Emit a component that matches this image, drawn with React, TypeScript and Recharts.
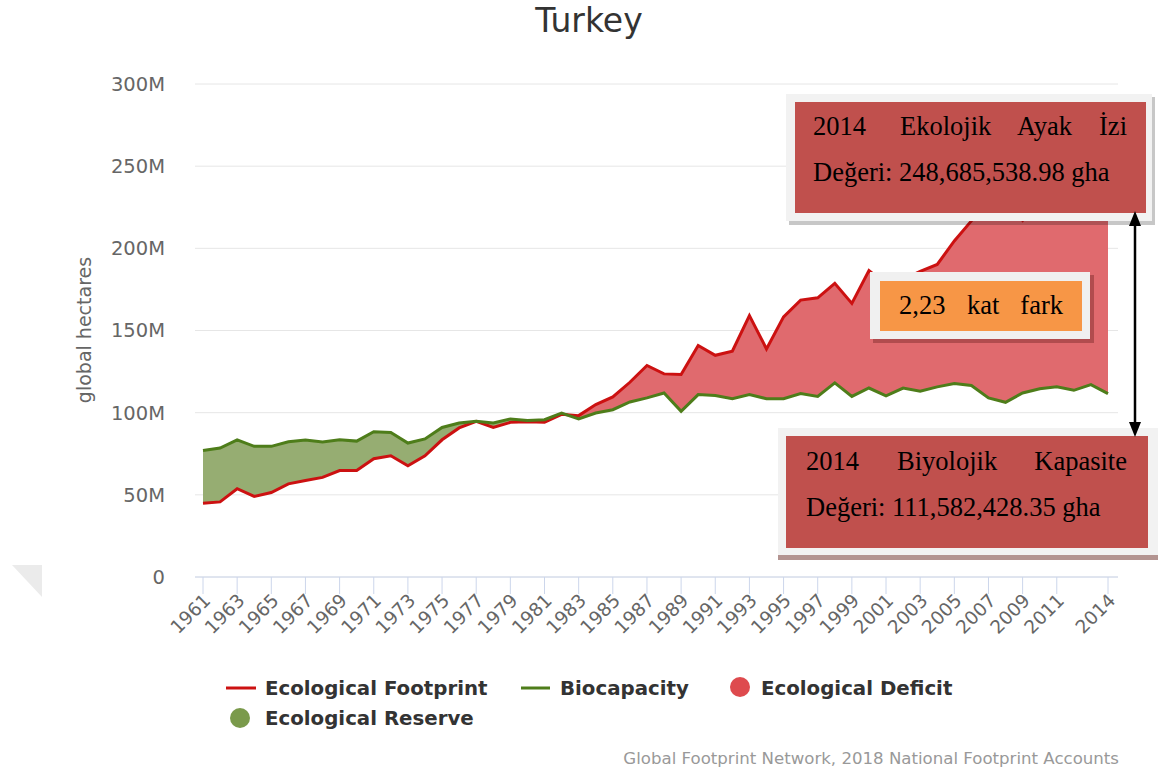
import React from "react";
import { ComposedChart, Area, Line, XAxis, YAxis, CartesianGrid } from "recharts";

// values, in millions of global hectares
const years = [
  1961, 1962, 1963, 1964, 1965, 1966, 1967, 1968, 1969, 1970,
  1971, 1972, 1973, 1974, 1975, 1976, 1977, 1978, 1979, 1980,
  1981, 1982, 1983, 1984, 1985, 1986, 1987, 1988, 1989, 1990,
  1991, 1992, 1993, 1994, 1995, 1996, 1997, 1998, 1999, 2000,
  2001, 2002, 2003, 2004, 2005, 2006, 2007, 2008, 2009, 2010,
  2011, 2012, 2013, 2014,
];

const footprint = [
  44.9, 45.7, 53.7, 49.0, 51.4, 56.7, 58.7, 60.6, 64.8, 64.8,
  72.0, 73.8, 67.7, 73.8, 83.5, 90.7, 94.7, 91.0, 94.1, 94.5,
  94.1, 99.0, 98.2, 104.9, 109.6, 118.5, 128.7, 123.6, 123.2, 140.9,
  134.9, 137.4, 159.1, 138.8, 158.3, 168.5, 169.9, 178.7, 166.5, 186.5,
  178.0, 181.0, 186.0, 190.2, 204.5, 216.7, 230.0, 228.0, 217.0, 232.0,
  241.0, 244.0, 252.0, 248.7,
];

const biocapacity = [
  77.0, 78.5, 83.5, 79.5, 79.5, 82.3, 83.3, 82.1, 83.5, 82.7,
  88.4, 88.0, 81.5, 84.0, 91.0, 93.7, 94.7, 93.7, 96.2, 95.3,
  95.7, 99.8, 96.2, 99.8, 101.8, 106.5, 109.0, 112.0, 100.8, 111.0,
  110.4, 108.5, 111.0, 108.5, 108.5, 111.6, 109.9, 118.1, 109.9, 115.0,
  110.2, 115.0, 113.0, 115.7, 117.7, 116.5, 109.0, 106.3, 112.0, 114.6,
  115.7, 113.6, 117.1, 111.6,
];

const yTicks = [0, 50, 100, 150, 200, 250, 300];
const xTicks = [
  1961, 1963, 1965, 1967, 1969, 1971, 1973, 1975, 1977, 1979, 1981, 1983, 1985,
  1987, 1989, 1991, 1993, 1995, 1997, 1999, 2001, 2003, 2005, 2007, 2009, 2011, 2014,
];

const data = years.map((year, i) => ({
  year,
  footprint: footprint[i],
  biocapacity: biocapacity[i],
  deficit: [biocapacity[i], Math.max(footprint[i], biocapacity[i])],
  reserve: [footprint[i], Math.max(footprint[i], biocapacity[i])],
}));

const FONT = "'DejaVu Sans', sans-serif";
const SERIF = "'Liberation Serif', 'Times New Roman', serif";

function YearTick(props: any) {
  const { x, y, payload } = props;
  const ax = x + 4;
  return (
    <text
      x={ax}
      y={y}
      dy="0.35em"
      textAnchor="end"
      transform={`rotate(-45 ${ax} ${y})`}
      fill="#666"
      fontSize={18.5}
      fontFamily={FONT}
    >
      {payload.value}
    </text>
  );
}

function AxisTitle() {
  return (
    <text
      x={84}
      y={330}
      dy="0.35em"
      textAnchor="middle"
      transform="rotate(-90 84 330)"
      fill="#666"
      fontSize={19}
      fontFamily={FONT}
    >
      global hectares
    </text>
  );
}

function Overlay() {
  return (
    <svg
      width={1158}
      height={771}
      style={{ position: "absolute", left: 0, top: 0, pointerEvents: "none" }}
    >
      <text x={589} y={32} textAnchor="middle" fontSize={33} fill="#333" fontFamily={FONT}>
        Turkey
      </text>

      <polygon points="12,565 42,565 42,597" fill="#ebebeb" />

      {/* legend */}
      <g fontFamily={FONT} fontSize={19.8} fontWeight="bold" fill="#333">
        <line x1={226} x2={256} y1={688} y2={688} stroke="#cc1111" strokeWidth={3} />
        <text x={265} y={688} dy="0.35em">Ecological Footprint</text>
        <line x1={521} x2={550} y1={688} y2={688} stroke="#4e7d1a" strokeWidth={3} />
        <text x={560} y={688} dy="0.35em">Biocapacity</text>
        <circle cx={740} cy={687} r={10} fill="#de4a4e" />
        <text x={761} y={688} dy="0.35em">Ecological Deficit</text>
        <circle cx={240} cy={718} r={10} fill="#7a9a4b" />
        <text x={265} y={718} dy="0.35em">Ecological Reserve</text>
      </g>

      <text x={1119} y={764} textAnchor="end" fontSize={16.6} fill="#999" fontFamily={FONT}>
        Global Footprint Network, 2018 National Footprint Accounts
      </text>

      {/* annotation: footprint */}
      <rect x={789} y={97} width={366} height={128} fill="rgba(0,0,0,0.22)" />
      <rect x={786} y={94} width={366} height={127} fill="#f2f2f2" />
      <rect x={795} y={102} width={351} height={111} fill="#c0504d" />
      <g fontFamily={SERIF} fontSize={26.5} fill="#000">
        <text x={813} y={135}>2014</text>
        <text x={900} y={135}>Ekolojik</text>
        <text x={1017} y={135}>Ayak</text>
        <text x={1127} y={135} textAnchor="end">İzi</text>
        <text x={813} y={181}>Değeri: 248,685,538.98 gha</text>
      </g>

      {/* annotation: ratio */}
      <rect x={873} y={275} width={221} height={68} fill="rgba(90,20,20,0.35)" />
      <rect x={870} y={272} width={220} height={67} fill="#f0f0f0" />
      <rect x={880} y={281} width={202} height={50} fill="#f79646" />
      <g fontFamily={SERIF} fontSize={26.5} fill="#000">
        <text x={899} y={314}>2,23</text>
        <text x={967} y={314}>kat</text>
        <text x={1063} y={314} textAnchor="end">fark</text>
      </g>

      {/* annotation: biocapacity */}
      <rect x={778} y={552} width={380} height={8} fill="#b39491" />
      <rect x={778} y={428} width={380} height={127} fill="#f2f2f2" />
      <rect x={786} y={436} width={362} height={112} fill="#c0504d" />
      <g fontFamily={SERIF} fontSize={26.5} fill="#000">
        <text x={806} y={470}>2014</text>
        <text x={897} y={470}>Biyolojik</text>
        <text x={1127} y={470} textAnchor="end">Kapasite</text>
        <text x={806} y={516}>Değeri: 111,582,428.35 gha</text>
      </g>

      {/* double arrow */}
      <line x1={1135} x2={1135} y1={222} y2={426} stroke="#000" strokeWidth={2.5} />
      <polygon points="1135,211 1129,226 1141,226" fill="#000" />
      <polygon points="1135,437 1129,422 1141,422" fill="#000" />
    </svg>
  );
}

export default function App() {
  return (
    <div
      style={{
        position: "absolute",
        left: 0,
        top: 0,
        width: 1158,
        height: 771,
        background: "#fff",
        fontFamily: FONT,
      }}
    >
      <ComposedChart
        width={1158}
        height={771}
        data={data}
        margin={{ top: 84, right: 40, bottom: 134, left: 0 }}
      >
        <CartesianGrid horizontal vertical={false} stroke="#e6e6e6" />
        <XAxis
          dataKey="year"
          type="number"
          domain={[1961, 2014]}
          ticks={xTicks}
          interval={0}
          height={60}
          padding={{ left: 8, right: 10 }}
          axisLine={{ stroke: "#ccd6eb" }}
          tickLine={{ stroke: "#ccd6eb" }}
          tickSize={17}
          tickMargin={3}
          tick={<YearTick />}
        />
        <YAxis
          type="number"
          domain={[0, 300]}
          ticks={yTicks}
          interval={0}
          width={195}
          axisLine={false}
          tickLine={false}
          tickMargin={24}
          tick={{ fill: "#666", fontSize: 19.5, fontFamily: FONT }}
          tickFormatter={(v: number) => (v === 0 ? "0" : `${v}M`)}
          label={<AxisTitle />}
        />
        <Area
          type="linear"
          dataKey="reserve"
          stroke="none"
          fill="#96ad72"
          fillOpacity={1}
          isAnimationActive={false}
          activeDot={false}
        />
        <Area
          type="linear"
          dataKey="deficit"
          stroke="none"
          fill="#e06a6e"
          fillOpacity={1}
          isAnimationActive={false}
          activeDot={false}
        />
        <Line
          type="linear"
          dataKey="footprint"
          stroke="#cc1111"
          strokeWidth={3}
          dot={false}
          isAnimationActive={false}
        />
        <Line
          type="linear"
          dataKey="biocapacity"
          stroke="#4e7d1a"
          strokeWidth={3}
          dot={false}
          isAnimationActive={false}
        />
      </ComposedChart>
      <Overlay />
    </div>
  );
}
